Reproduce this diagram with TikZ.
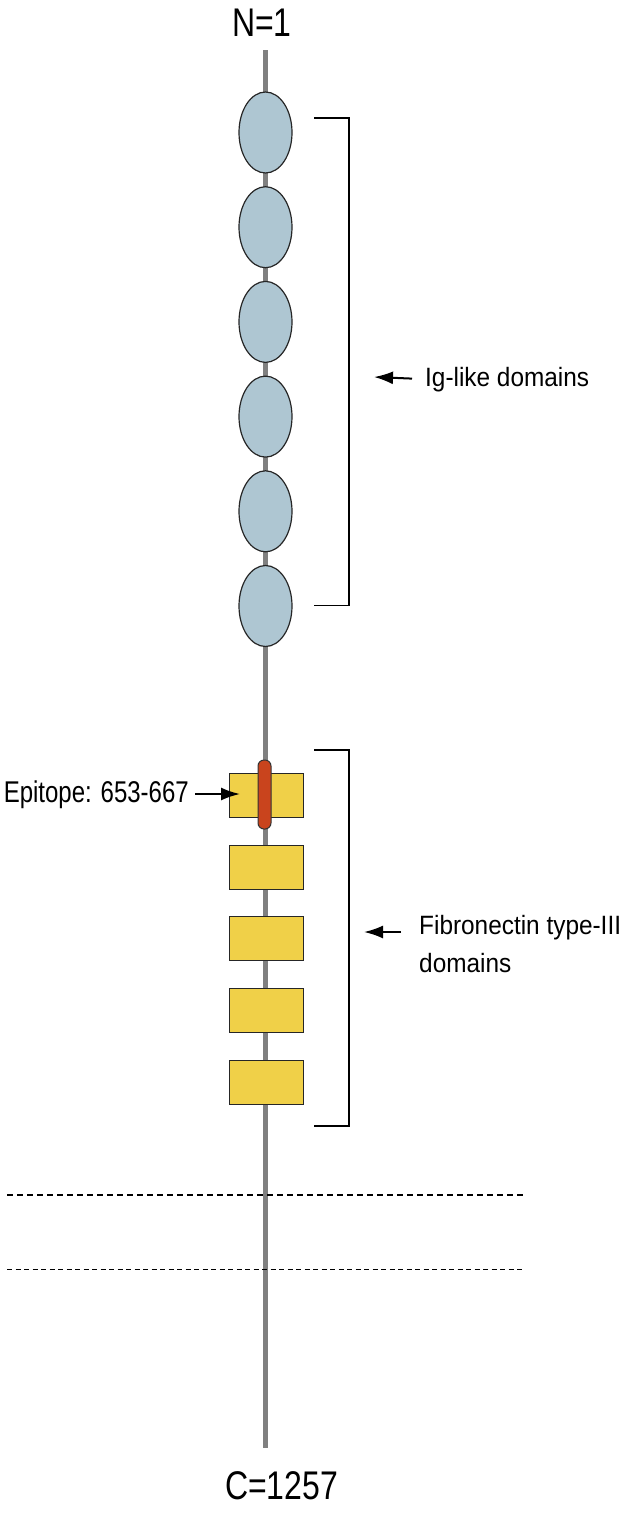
\documentclass[tikz,border=0pt]{standalone}
\usepackage{fontspec}
\setmainfont[FakeStretch=0.92]{Liberation Sans}
\newfontfamily\narrowfont[FakeStretch=0.8]{Liberation Sans}
\usetikzlibrary{arrows.meta,positioning,shapes}
\definecolor{igblue}{HTML}{AEC6D2}
\definecolor{fnyellow}{HTML}{F0D048}
\definecolor{epired}{HTML}{C9441D}
\definecolor{spinegray}{HTML}{808080}

\begin{document}
\begin{tikzpicture}[x=1pt,y=-1pt,
    igdom/.style={ellipse,draw=black!85,line width=1.2pt,fill=igblue,minimum width=53pt,minimum height=81pt,inner sep=0pt},
    fndom/.style={rectangle,draw=black!85,line width=1pt,fill=fnyellow,minimum width=74pt,minimum height=44pt,inner sep=0pt},
    lbl/.style={inner sep=0pt,font=\fontsize{26.5}{38}\selectfont,align=left},
    big/.style={inner sep=0pt,font=\narrowfont\fontsize{40}{48}\selectfont},
    pointer/.style={-{Latex[length=19pt,width=13pt]},line width=2pt}]
    \useasboundingbox (0,0) rectangle (633,1513);

    % backbone
    \node[big,anchor=base] (nterm) at (262,36) {N=1};
    \node[big,anchor=base] (cterm) at (281.5,1499) {C=1257};
    \draw[spinegray,line width=5pt] (265,50) -- (265,1448);

    % Ig-like domains
    \node[igdom] (ig1) at (265.5,132.5) {};
    \node[igdom] (ig2) at (265.5,227.2) {};
    \node[igdom] (ig3) at (265.5,321.9) {};
    \node[igdom] (ig4) at (265.5,416.6) {};
    \node[igdom] (ig5) at (265.5,511.3) {};
    \node[igdom] (ig6) at (265.5,606) {};

    % fibronectin type-III domains
    \node[fndom] (fn1) at (266,795) {};
    \node[fndom] (fn2) at (266,867) {};
    \node[fndom] (fn3) at (266,938) {};
    \node[fndom] (fn4) at (266,1010) {};
    \node[fndom] (fn5) at (266,1082) {};

    \node[rectangle,rounded corners=6pt,draw=black!80,line width=1pt,fill=epired,minimum width=13pt,minimum height=69pt,inner sep=0pt] (epitope) at (264.5,794.5) {};

    % brackets
    \draw[line width=1.5pt] (314,118) -- (349,118) -- (349,605.5) -- (314,605.5);
    \draw[line width=1.5pt] (314,750) -- (349,750) -- (349,1126) -- (314,1126);

    \node[lbl,anchor=base west] (label1) at (425,386) {Ig-like domains};
    \coordinate (tip1) at (374,377);
    \draw[pointer,shorten <=13pt] (label1.west) -- (tip1);

    \node[lbl,anchor=base west] (label2) at (419,972) {Fibronectin type-III\\domains};
    \coordinate (tip2) at (364,932);
    \draw[pointer] ([xshift=-18pt]label2.west |- tip2) -- (tip2);

    \node[big,anchor=base east,font=\narrowfont\fontsize{30}{36}\selectfont] (label3) at (189,802) {Epitope: 653-667};
    \coordinate (tip3) at (240,794);
    \draw[pointer,shorten <=6pt] (label3.east |- tip3) -- (tip3);

    % dashed lines
    \draw[line width=2pt,dash pattern=on 6pt off 4pt] (7,1194.5) -- (524,1194.5);
    \draw[line width=1pt,dash pattern=on 5pt off 3.5pt] (7,1269) -- (524,1269);
\end{tikzpicture}
\end{document}
